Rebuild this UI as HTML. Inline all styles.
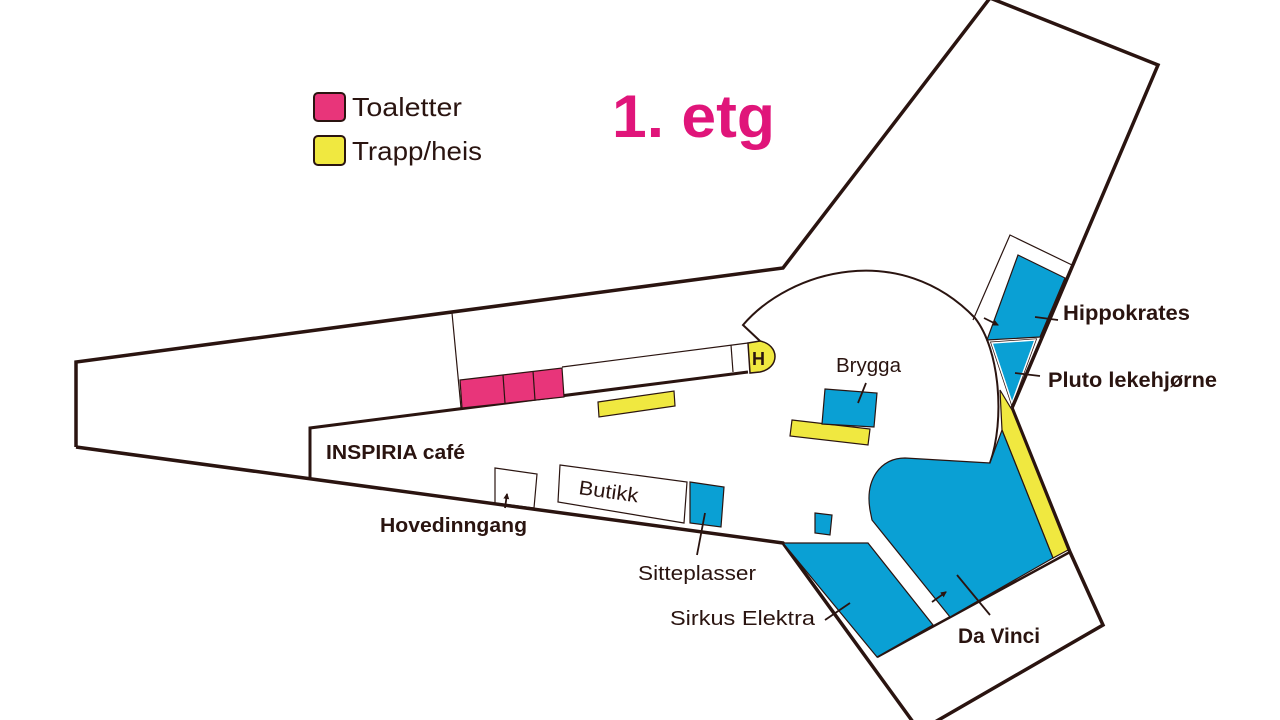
<!DOCTYPE html>
<html><head><meta charset="utf-8"><style>
html,body{margin:0;padding:0;background:#fff;}
svg{display:block;}
text{font-family:"Liberation Sans",sans-serif;fill:#2a1410;}
</style></head><body>
<svg width="1280" height="720" viewBox="0 0 1280 720" xmlns="http://www.w3.org/2000/svg">
<defs><marker id="ar" markerWidth="6" markerHeight="6" refX="5" refY="3" orient="auto" markerUnits="userSpaceOnUse"><path d="M0,0 L6,3 L0,6 Z" fill="#2a1410"/></marker></defs>
<g stroke="#2a1410" fill="none" stroke-linejoin="miter">
<polyline points="76,447 76,362 783,268 990,-2" stroke-width="3.5"/>
<polyline points="76,447 783,543 913,722" stroke-width="3.5"/>
<polyline points="1012,408 1070,552 1103,625 935,722" stroke-width="3.5"/>
<line x1="1070" y1="552" x2="877" y2="657" stroke-width="2.5"/>
<polyline points="310,479 310,428 748,372" stroke-width="3"/>
<line x1="452" y1="313" x2="461" y2="408" stroke-width="1.2"/>
<line x1="562" y1="367" x2="748" y2="343" stroke-width="1.2"/>
<line x1="731" y1="345" x2="733" y2="372" stroke-width="1.2"/>
</g>
<path d="M748,343 L760,341 C780,345 780,368 760,372 L750,373 Z" fill="#f0e840" stroke="#2a1410" stroke-width="1.5"/>
<text x="752" y="365" font-size="18" font-weight="bold">H</text>
<path d="M760,341 L743,325 C790,270 900,240 975,318 C1000,350 1005,420 990,463" fill="none" stroke="#2a1410" stroke-width="2"/>
<polygon points="460,380 562,368 564,397 462,408" fill="#e8357a" stroke="#2a1410" stroke-width="1.2"/>
<line x1="503" y1="375" x2="505" y2="403" stroke="#2a1410" stroke-width="1.2"/>
<line x1="533" y1="371" x2="535" y2="400" stroke="#2a1410" stroke-width="1.2"/>
<polygon points="598,402 674,391 675,406 599,417" fill="#f0e840" stroke="#2a1410" stroke-width="1.2"/>
<polygon points="792,420 870,429 868,445 790,436" fill="#f0e840" stroke="#2a1410" stroke-width="1.2"/>
<polygon points="1000,390 1012,410 1068,550 1053,558 1002,430" fill="#f0e840" stroke="#2a1410" stroke-width="1.2"/>
<g fill="#0aa0d4" stroke="#2a1410" stroke-width="1.2">
<polygon points="825,389 877,393 874,427 822,424"/>
<polygon points="815,513 832,515 830,535 815,533"/>
<polygon points="690,482 724,487 721,527 690,523"/>
<polygon points="783,543 868,543 933,625 877,657"/>
<path d="M990,463 L905,458 C880,458 865,480 870,510 L872,520 L950,617 L1053,558 L1002,430 Z"/>
<polygon points="1018,255 1065,278 1040,337 987,340"/>
</g>
<polygon points="992,343 1035,340 1012,403" fill="#0aa0d4" stroke="#2a1410" stroke-width="3"/>
<polygon points="992,343 1035,340 1012,403" fill="#0aa0d4" stroke="#fff" stroke-width="1.5"/>
<polyline points="990,-2 1158,65 1012,408" fill="none" stroke="#2a1410" stroke-width="3.5"/>
<polyline points="973,320 1010,235 1072,265" fill="none" stroke="#2a1410" stroke-width="1.2"/>
<polygon points="560,465 687,482 684,523 558,502" fill="none" stroke="#2a1410" stroke-width="1.2"/>
<polygon points="495,468 537,474 534,508 495,503" fill="none" stroke="#2a1410" stroke-width="1.2"/>
<g stroke="#2a1410" stroke-width="1.8">
<line x1="866" y1="383" x2="858" y2="403"/>
<line x1="1035" y1="317" x2="1058" y2="320"/>
<line x1="1015" y1="373" x2="1040" y2="376"/>
<line x1="705" y1="513" x2="697" y2="555"/>
<line x1="825" y1="620" x2="850" y2="603"/>
<line x1="957" y1="575" x2="990" y2="615"/>
<line x1="984" y1="318" x2="998" y2="325" marker-end="url(#ar)"/>
<line x1="932" y1="602" x2="946" y2="592" marker-end="url(#ar)"/>
<line x1="505" y1="508" x2="507" y2="494" marker-end="url(#ar)"/>
</g>
<rect x="314" y="93" width="31" height="28" rx="4" fill="#e8357a" stroke="#2a1410" stroke-width="2"/>
<rect x="314" y="136" width="31" height="29" rx="4" fill="#f0e840" stroke="#2a1410" stroke-width="2"/>
<text x="352" y="116" font-size="26" textLength="110" lengthAdjust="spacingAndGlyphs">Toaletter</text>
<text x="352" y="160" font-size="26" textLength="130" lengthAdjust="spacingAndGlyphs">Trapp/heis</text>
<text x="612" y="137" font-size="60" font-weight="bold" textLength="163" lengthAdjust="spacingAndGlyphs" style="fill:#e0157a">1. etg</text>
<text x="1063" y="320" font-size="21" font-weight="bold" textLength="127" lengthAdjust="spacingAndGlyphs">Hippokrates</text>
<text x="1048" y="387" font-size="21" font-weight="bold" textLength="169" lengthAdjust="spacingAndGlyphs">Pluto lekehjørne</text>
<text x="836" y="372" font-size="20" textLength="65" lengthAdjust="spacingAndGlyphs">Brygga</text>
<text x="326" y="459" font-size="20" font-weight="bold" textLength="139" lengthAdjust="spacingAndGlyphs">INSPIRIA café</text>
<text x="380" y="532" font-size="20" font-weight="bold" textLength="147" lengthAdjust="spacingAndGlyphs">Hovedinngang</text>
<text x="578" y="494" font-size="20" transform="rotate(8 578 494)" textLength="60" lengthAdjust="spacingAndGlyphs">Butikk</text>
<text x="638" y="580" font-size="20" textLength="118" lengthAdjust="spacingAndGlyphs">Sitteplasser</text>
<text x="670" y="625" font-size="20" textLength="145" lengthAdjust="spacingAndGlyphs">Sirkus Elektra</text>
<text x="958" y="643" font-size="21" font-weight="bold" textLength="82" lengthAdjust="spacingAndGlyphs">Da Vinci</text>
</svg>
</body></html>
